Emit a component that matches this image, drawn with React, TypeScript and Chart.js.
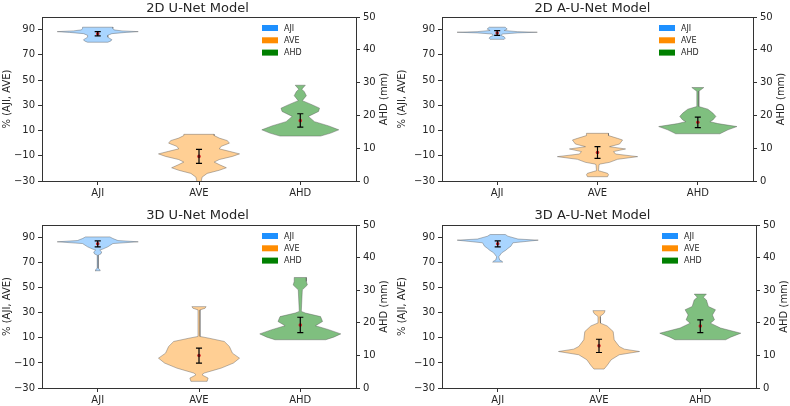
import { useEffect, useRef } from "react"
import { Chart, registerables } from "chart.js"

Chart.register(...registerables)

// categories and colours
const categories = ["AJI", "AVE", "AHD"]
const legendColors = ["#1e90ff", "#ff8c00", "#008000"]
const bodyColors = ["rgba(30,144,255,0.38)", "rgba(255,140,0,0.42)", "rgba(0,128,0,0.5)"]
const panelTitles = ["2D U-Net Model", "2D A-U-Net Model", "3D U-Net Model", "3D A-U-Net Model"]
const leftTicks = [-30, -10, 10, 30, 50, 70, 90]
const leftAxisTitle = "% (AJI, AVE)"
const rightAxisTitle = "AHD (mm)"

// violin outlines: [value, half width], bottom to top (AJI / AVE in %, AHD in mm)
const unet2dAji = [[80.0, 0.10], [81.0, 0.13], [82.0, 0.14], [83.0, 0.12], [84.0, 0.10], [85.5, 0.10], [86.8, 0.14], [87.8, 0.28], [88.4, 0.40], [89.0, 0.24], [89.8, 0.16], [91.0, 0.15], [91.9, 0.15]]
const unet2dAve = [[-31, 0.02], [-27, 0.03], [-24, 0.08], [-21.5, 0.2], [-19.5, 0.27], [-17, 0.2], [-15, 0.15], [-13, 0.2], [-10.5, 0.33], [-8.5, 0.40], [-6.5, 0.3], [-4.5, 0.2], [-2.5, 0.22], [0, 0.3], [2, 0.28], [4, 0.2], [6, 0.15], [7, 0.15]]
const unet2dAhd = [[13.7, 0.2], [14.6, 0.3], [15.6, 0.38], [16.8, 0.28], [18.1, 0.14], [19.7, 0.08], [21.2, 0.18], [22.2, 0.19], [23.2, 0.12], [24.5, 0.02], [26.0, 0.06], [27.2, 0.04], [28.0, 0.015], [29.2, 0.05]]

const aunet2dAji = [[82.3, 0.07], [83.2, 0.08], [84.3, 0.07], [85.3, 0.04], [86.5, 0.05], [87.4, 0.2], [87.9, 0.4], [88.4, 0.2], [89.3, 0.07], [90.4, 0.1], [91.2, 0.09], [91.9, 0.08]]
const aunet2dAve = [[-26.6, 0.1], [-25, 0.11], [-23.9, 0.1], [-22.5, 0.04], [-21.8, 0.01], [-17, 0.015], [-16.5, 0.03], [-15.2, 0.12], [-12.8, 0.2], [-10.7, 0.4], [-8.6, 0.18], [-6.7, 0.16], [-4.6, 0.28], [-2.8, 0.12], [-0.7, 0.22], [2.5, 0.25], [3.8, 0.2], [6, 0.11], [7.8, 0.11]]
const aunet2dAhd = [[14.4, 0.22], [15.6, 0.3], [16.6, 0.39], [17.5, 0.2], [18.1, 0.12], [18.6, 0.15], [19.7, 0.18], [20.7, 0.15], [21.9, 0.1], [22.7, 0.01], [27.4, 0.01], [27.8, 0.03], [28.5, 0.06]]

const unet3dAji = [[63.5, 0.025], [64.5, 0.02], [65.5, 0.005], [76, 0.005], [76.8, 0.03], [78.5, 0.04], [80, 0.02], [80.8, 0.05], [82.6, 0.1], [85.2, 0.15], [86.6, 0.40], [87.6, 0.2], [89.2, 0.15], [90.5, 0.12]]
const unet3dAve = [[-24.7, 0.08], [-22.1, 0.09], [-20, 0.04], [-19.4, 0.03], [-18.1, 0.05], [-16, 0.14], [-14.1, 0.22], [-10.1, 0.34], [-6.2, 0.4], [-2.2, 0.33], [3.1, 0.3], [7.1, 0.25], [9.7, 0.1], [11.1, 0.01], [32.3, 0.01], [33.6, 0.06], [34.9, 0.07]]
const unet3dAhd = [[14.8, 0.25], [15.6, 0.33], [16.6, 0.40], [17.9, 0.28], [19.1, 0.15], [20.4, 0.22], [21.9, 0.2], [23.0, 0.05], [23.5, 0.01], [30.1, 0.02], [31.6, 0.07], [32.7, 0.06], [33.9, 0.06]]

const aunet3dAji = [[70.4, 0.05], [71.2, 0.04], [72, 0.02], [74.6, 0.01], [77.8, 0.04], [79.9, 0.08], [81.3, 0.1], [83.1, 0.13], [85.8, 0.15], [87.9, 0.40], [88.8, 0.2], [91.1, 0.1], [92.4, 0.075]]
const aunet3dAve = [[-14.9, 0.05], [-12, 0.08], [-7.5, 0.12], [-3.5, 0.2], [-0.9, 0.40], [1, 0.25], [3.1, 0.2], [8.4, 0.15], [15, 0.14], [19.5, 0.08], [21.7, 0.015], [27, 0.01], [29.6, 0.05], [31.7, 0.06]]
const aunet3dAhd = [[14.8, 0.25], [15.6, 0.3], [16.8, 0.40], [18.4, 0.2], [19.9, 0.1], [20.9, 0.14], [22.4, 0.12], [24.0, 0.15], [25.0, 0.08], [27.0, 0.06], [27.8, 0.03], [28.8, 0.06]]

// error bars: [low, mean, high]
const unet2dErr = [[85.0, 86.7, 88.4], [-16.0, -10.5, -4.9], [16.4, 18.4, 20.5]]
const aunet2dErr = [[85.5, 87.3, 89.2], [-12.0, -7.4, -2.8], [16.3, 17.9, 19.5]]
const unet3dErr = [[82.6, 85.0, 87.4], [-10.1, -4.1, 1.8], [17.0, 19.3, 21.7]]
const aunet3dErr = [[82.6, 85.0, 87.4], [-1.7, 3.6, 8.9], [17.0, 19.0, 20.9]]

const panelViolins = [
  [unet2dAji, unet2dAve, unet2dAhd],
  [aunet2dAji, aunet2dAve, aunet2dAhd],
  [unet3dAji, unet3dAve, unet3dAhd],
  [aunet3dAji, aunet3dAve, aunet3dAhd],
]
const panelErrors = [unet2dErr, aunet2dErr, unet3dErr, aunet3dErr]

// layout of the four subplots
const panelBoxes = [
  { left: 0, top: 0, width: 395, height: 200, leftW: 42, rightW: 39, padTop: 2, padBottom: 2, bottomH: 19 },
  { left: 395, top: 0, width: 395, height: 200, leftW: 47, rightW: 37, padTop: 2, padBottom: 2, bottomH: 19 },
  { left: 0, top: 200, width: 395, height: 206, leftW: 42, rightW: 39, padTop: 9, padBottom: 3, bottomH: 18 },
  { left: 395, top: 200, width: 395, height: 206, leftW: 47, rightW: 34, padTop: 9, padBottom: 3, bottomH: 18 },
]

const FONT = "'DejaVu Sans', sans-serif"
const TEXT = "#262626"
const AXIS = "#333333"

function outlinePoints(pos: number, outline: number[][]) {
  const left = outline.map(([v, w]) => ({ x: pos - w, y: v }))
  const right = [...outline].reverse().map(([v, w]) => ({ x: pos + w, y: v }))
  return [...left, ...right, left[0]]
}

function errorPoints(pos: number, err: number[]) {
  const cap = 0.03
  const [lo, , hi] = err
  return [
    { x: pos - cap, y: hi }, { x: pos + cap, y: hi }, { x: pos, y: null },
    { x: pos, y: hi }, { x: pos, y: lo }, { x: pos, y: null },
    { x: pos - cap, y: lo }, { x: pos + cap, y: lo },
  ]
}

const minus = (v: number | string) => String(v).replace("-", "\u2212")

// legend inside the plot area, top right, and the right axis title read bottom-to-top
const decorPlugin = {
  id: "decor",
  afterDatasetsDraw(chart: Chart) {
    const { ctx, chartArea } = chart
    ctx.save()
    ctx.font = `8px ${FONT}`
    ctx.textBaseline = "middle"
    ctx.textAlign = "left"
    categories.forEach((name, i) => {
      const y = chartArea.top + 11 + i * 12.3
      const x = chartArea.right - 94
      ctx.fillStyle = legendColors[i]
      ctx.fillRect(x, y - 3, 16, 6)
      ctx.fillStyle = TEXT
      ctx.fillText(name, x + 22, y + 0.5)
    })

    ctx.font = `10px ${FONT}`
    ctx.textAlign = "center"
    ctx.fillStyle = TEXT
    ctx.translate(chartArea.right + 28, (chartArea.top + chartArea.bottom) / 2)
    ctx.rotate(-Math.PI / 2)
    ctx.fillText(rightAxisTitle, 0, 0)
    ctx.restore()
  },
}

function ViolinPanel({ index }: { index: number }) {
  const canvasRef = useRef<HTMLCanvasElement>(null)
  const box = panelBoxes[index]

  useEffect(() => {
    if (!canvasRef.current) return
    const violins = panelViolins[index]
    const errors = panelErrors[index]

    const datasets: any[] = []
    categories.forEach((_, i) => {
      const pos = i + 1
      const axis = i === 2 ? "y2" : "y"
      datasets.push({
        data: outlinePoints(pos, violins[i]),
        yAxisID: axis,
        showLine: true,
        fill: "shape",
        backgroundColor: bodyColors[i],
        borderColor: "rgba(80,80,80,0.5)",
        borderWidth: 0.8,
        pointRadius: 0,
        tension: 0,
        order: 3,
      })
      datasets.push({
        data: [{ x: pos, y: errors[i][1] }],
        yAxisID: axis,
        showLine: false,
        pointRadius: 1.8,
        pointBackgroundColor: "#d62728",
        pointBorderWidth: 0,
        order: 2,
      })
      datasets.push({
        data: errorPoints(pos, errors[i]),
        yAxisID: axis,
        showLine: true,
        borderColor: "#000",
        borderWidth: 1.2,
        pointRadius: 0,
        spanGaps: false,
        order: 1,
      })
    })

    const tickFont = { family: FONT, size: 10 }

    const chart = new Chart(canvasRef.current, {
      type: "scatter",
      data: { datasets },
      options: {
        animation: false,
        responsive: false,
        events: [],
        layout: { padding: 0 },
        plugins: {
          legend: { display: false },
          tooltip: { enabled: false },
          title: {
            display: true,
            text: panelTitles[index],
            color: TEXT,
            font: { family: FONT, size: 13, weight: "normal", lineHeight: 1 },
            padding: { top: box.padTop, bottom: box.padBottom },
          },
        },
        scales: {
          x: {
            type: "linear",
            position: "bottom",
            min: 0.45,
            max: 3.55,
            afterBuildTicks: (s: any) => {
              s.ticks = categories.map((_, i) => ({ value: i + 1 }))
            },
            ticks: {
              callback: (v: any) => categories[Number(v) - 1] ?? "",
              font: tickFont,
              color: TEXT,
              padding: 2,
              autoSkip: false,
              maxRotation: 0,
            },
            grid: { display: true, drawOnChartArea: false, drawTicks: true, tickLength: 4, color: AXIS },
            border: { display: true, color: AXIS, width: 1 },
            afterFit: (s: any) => {
              s.height = box.bottomH
            },
          },
          xTop: {
            type: "linear",
            position: "top",
            min: 0.45,
            max: 3.55,
            ticks: { display: false },
            grid: { display: false, drawTicks: false },
            border: { display: true, color: AXIS, width: 1 },
            afterFit: (s: any) => {
              s.height = 0
            },
          },
          y: {
            type: "linear",
            position: "left",
            min: -30,
            max: 100,
            afterBuildTicks: (s: any) => {
              s.ticks = leftTicks.map((v) => ({ value: v }))
            },
            ticks: { callback: (v: any) => minus(v), font: tickFont, color: TEXT, padding: 3 },
            grid: { display: true, drawOnChartArea: false, drawTicks: true, tickLength: 4, color: AXIS },
            border: { display: true, color: AXIS, width: 1 },
            title: {
              display: true,
              text: leftAxisTitle,
              color: TEXT,
              font: { family: FONT, size: 10 },
              padding: { top: 1, bottom: 2 },
            },
            afterFit: (s: any) => {
              s.width = box.leftW
            },
          },
          y2: {
            type: "linear",
            position: "right",
            min: 0,
            max: 50,
            ticks: { stepSize: 10, font: tickFont, color: TEXT, padding: 3 },
            grid: { display: true, drawOnChartArea: false, drawTicks: true, tickLength: 4, color: AXIS },
            border: { display: true, color: AXIS, width: 1 },
            afterFit: (s: any) => {
              s.width = box.rightW
            },
          },
        },
      } as any,
      plugins: [decorPlugin],
    })

    return () => {
      chart.destroy()
    }
  }, [index])

  return (
    <div style={{ position: "absolute", left: box.left, top: box.top, width: box.width, height: box.height }}>
      <canvas ref={canvasRef} width={box.width} height={box.height} style={{ width: box.width, height: box.height }} />
    </div>
  )
}

export default function App() {
  return (
    <div style={{ position: "fixed", left: 0, top: 0, width: 790, height: 406, background: "#fff", overflow: "hidden" }}>
      {panelTitles.map((_, i) => (
        <ViolinPanel key={i} index={i} />
      ))}
    </div>
  )
}
